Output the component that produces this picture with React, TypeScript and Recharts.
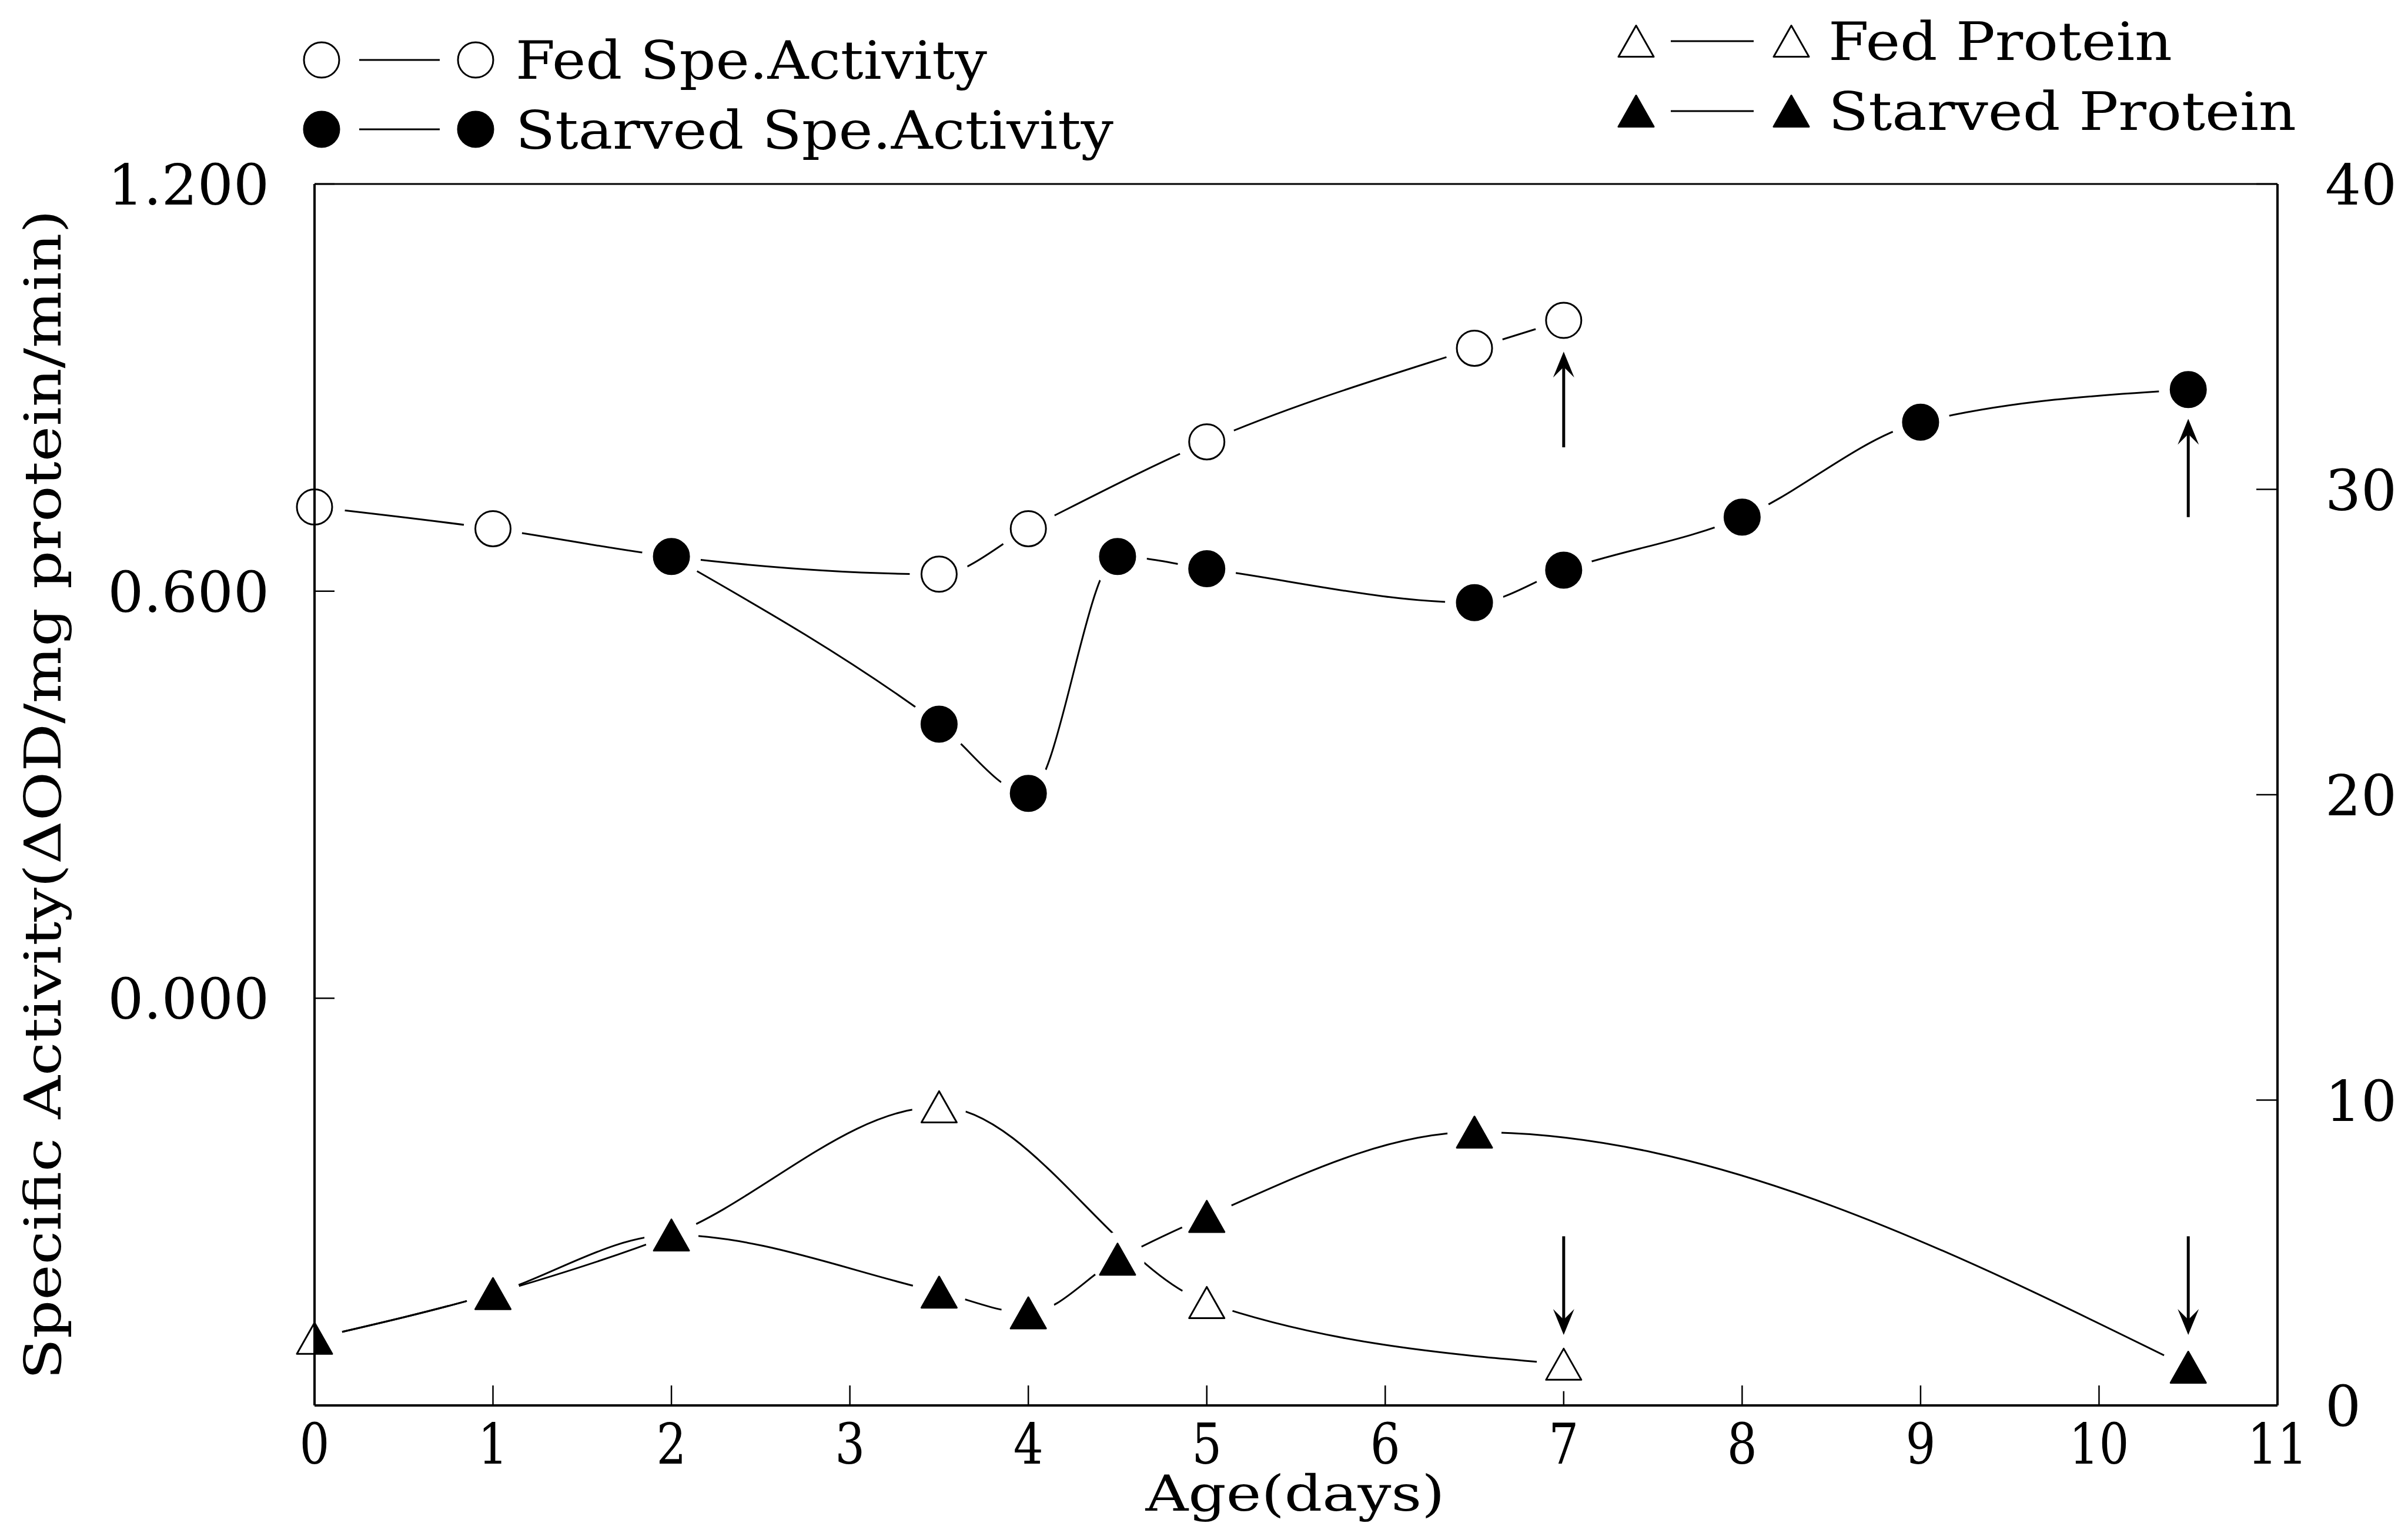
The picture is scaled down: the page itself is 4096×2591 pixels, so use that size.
import React from "react";
import { ComposedChart, Line, Scatter, XAxis, YAxis, ReferenceLine } from "recharts";

// values
const fedActivityDays = [0, 1, 2, 3.5, 4, 5, 6.5, 7];
const fedActivity = [0.724, 0.692, 0.651, 0.625, 0.692, 0.82, 0.958, 0.999];

const starvedActivityDays = [2, 3.5, 4, 4.5, 5, 6.5, 7, 8, 9, 10.5];
const starvedActivity = [0.651, 0.404, 0.302, 0.651, 0.633, 0.583, 0.631, 0.709, 0.849, 0.897];

const fedProteinDays = [0, 1, 2, 3.5, 5, 7];
const fedProtein = [2.2, 3.66, 5.58, 9.78, 3.37, 1.35];

const starvedProteinDays = [0, 1, 2, 3.5, 4, 4.5, 5, 6.5, 10.5];
const starvedProtein = [2.2, 3.66, 5.58, 3.71, 3.03, 4.79, 6.19, 8.95, 1.25];

const xTicks = [0, 1, 2, 3, 4, 5, 6, 7, 8, 9, 10, 11];
const leftTicks = [0, 0.6, 1.2];
const rightTicks = [0, 10, 20, 30, 40];

// end-of-experiment arrows
const activityArrowDays = [7, 10.5];
const activityArrowFrom = [0.812, 0.709];
const activityArrowTo = [0.953, 0.854];
const proteinArrowDays = [7, 10.5];
const proteinArrowFrom = [5.54, 5.54];
const proteinArrowTo = [2.31, 2.31];

const seriesNames = ["Fed Spe.Activity", "Starved Spe.Activity", "Fed Protein", "Starved Protein"];

const toRows = (days: number[], vals: number[]) => days.map((day, i) => ({ day, v: vals[i] }));
const fedActData = toRows(fedActivityDays, fedActivity);
const starvedActData = toRows(starvedActivityDays, starvedActivity);
const fedProtData = toRows(fedProteinDays, fedProtein);
const starvedProtData = toRows(starvedProteinDays, starvedProtein);

const W = 4096;
const H = 2591;
// plot box: left 535, right 3874, top 313, bottom 2391
const PLOT_MARGIN = { top: 313, left: 535, right: 222, bottom: 200 };

const FONT = "'DejaVu Serif', 'Liberation Serif', serif";
const R = 30;
const TW = 30;
const TH = 26.5;

type Kind = "circle" | "triangle";

function marker(kind: Kind, filled: boolean, cx: number, cy: number, half = false) {
  const fill = filled ? "#000" : "none";
  if (kind === "circle") {
    return <circle cx={cx} cy={cy} r={R} fill={fill} stroke="#000" strokeWidth={3} />;
  }
  const pts = half
    ? `${cx},${cy - TH} ${cx},${cy + TH} ${cx + TW},${cy + TH}`
    : `${cx},${cy - TH} ${cx - TW},${cy + TH} ${cx + TW},${cy + TH}`;
  return <polygon points={pts} fill={fill} stroke="#000" strokeWidth={3} strokeLinejoin="round" />;
}

// symbol with a white halo so the curves stop short of it
function makeShape(kind: Kind, filled: boolean) {
  const halo = kind === "circle" ? 50 : 46;
  return (p: any) => {
    const { cx, cy, payload } = p;
    if (cx == null || cy == null) return <g />;
    const atAxis = payload && payload.day === 0;
    const hx = cx + 2;
    return (
      <g>
        {atAxis ? (
          <path d={`M${hx},${cy - halo} A${halo},${halo} 0 0 1 ${hx},${cy + halo} Z`} fill="#fff" stroke="none" />
        ) : (
          <circle cx={cx} cy={cy} r={halo} fill="#fff" stroke="none" />
        )}
        {marker(kind, filled, cx, cy, atAxis && filled)}
      </g>
    );
  };
}

function makeArrow(pointUp: boolean) {
  return (p: any) => {
    const { x1, y1, y2 } = p;
    const tip = pointUp ? Math.min(y1, y2) : Math.max(y1, y2);
    const tail = pointUp ? Math.max(y1, y2) : Math.min(y1, y2);
    const d = pointUp ? 1 : -1;
    return (
      <g>
        <line x1={x1} x2={x1} y1={tail} y2={tip + d * 26} stroke="#000" strokeWidth={5} />
        <path
          d={`M${x1},${tip} L${x1 + 18},${tip + d * 44} L${x1},${tip + d * 26} L${x1 - 18},${tip + d * 44} Z`}
          fill="#000"
        />
      </g>
    );
  };
}

const BottomTick = (p: any) => {
  const { x, y, payload } = p;
  const label = String(payload.value);
  return (
    <g>
      <line x1={x} x2={x} y1={y} y2={y - 34} stroke="#000" strokeWidth={2.5} />
      <text
        x={x}
        y={y + 99}
        textAnchor="middle"
        fontFamily={FONT}
        fontSize={96}
        fill="#000"
        textLength={51 * label.length}
        lengthAdjust="spacingAndGlyphs"
      >
        {label}
      </text>
    </g>
  );
};

const LeftTick = (p: any) => {
  const { x, y, payload } = p;
  return (
    <g>
      <line x1={x} x2={x + 34} y1={y} y2={y} stroke="#000" strokeWidth={2.5} />
      <text x={x - 77} y={y + 35} textAnchor="end" fontFamily={FONT} fontSize={96} fill="#000">
        {Number(payload.value).toFixed(3)}
      </text>
    </g>
  );
};

const RightTick = (p: any) => {
  const { x, y, payload } = p;
  return (
    <g>
      <line x1={x} x2={x - 36} y1={y} y2={y} stroke="#000" strokeWidth={2.5} />
      <text x={x + 81} y={y + 35} textAnchor="start" fontFamily={FONT} fontSize={96} fill="#000">
        {String(payload.value)}
      </text>
    </g>
  );
};

const axisLine = { stroke: "#000", strokeWidth: 4 };

const series = [
  { data: fedActData, axis: "left", kind: "circle" as Kind, filled: false },
  { data: starvedActData, axis: "left", kind: "circle" as Kind, filled: true },
  { data: fedProtData, axis: "right", kind: "triangle" as Kind, filled: false },
  { data: starvedProtData, axis: "right", kind: "triangle" as Kind, filled: true },
];

const layer: React.CSSProperties = { position: "absolute", left: 0, top: 0 };

export default function App() {
  return (
    <div style={{ position: "relative", width: W, height: H, background: "#fff", overflow: "hidden" }}>
      <style>{`body{margin:0}`}</style>

      {/* axes, curves and arrows */}
      <div style={layer}>
        <ComposedChart width={W} height={H} margin={{ top: 313, left: 235, right: 22, bottom: 50 }}>
          <XAxis
            type="number"
            dataKey="day"
            domain={[0, 11]}
            ticks={xTicks}
            interval={0}
            height={150}
            tickSize={0}
            tickMargin={0}
            tickLine={false}
            axisLine={axisLine}
            tick={BottomTick}
          />
          <YAxis
            yAxisId="left"
            orientation="left"
            type="number"
            dataKey="v"
            domain={[-0.6, 1.2]}
            ticks={leftTicks}
            interval={0}
            width={300}
            tickSize={0}
            tickMargin={0}
            tickLine={false}
            axisLine={axisLine}
            tick={LeftTick}
          />
          <YAxis
            yAxisId="right"
            orientation="right"
            type="number"
            dataKey="v"
            domain={[0, 40]}
            ticks={rightTicks}
            interval={0}
            width={200}
            tickSize={0}
            tickMargin={0}
            tickLine={false}
            axisLine={axisLine}
            tick={RightTick}
          />
          <ReferenceLine yAxisId="left" y={1.2} stroke="#000" strokeWidth={3} />

          {series.map((s, i) => (
            <Line
              key={`curve-${i}`}
              yAxisId={s.axis}
              data={s.data}
              dataKey="v"
              name={seriesNames[i]}
              type="monotone"
              stroke="#000"
              strokeWidth={3}
              dot={false}
              activeDot={false}
              legendType="none"
              isAnimationActive={false}
            />
          ))}

          {activityArrowDays.map((d, i) => (
            <ReferenceLine
              key={`aa${i}`}
              yAxisId="left"
              segment={[
                { x: d, y: activityArrowFrom[i] },
                { x: d, y: activityArrowTo[i] },
              ]}
              shape={makeArrow(true)}
            />
          ))}
          {proteinArrowDays.map((d, i) => (
            <ReferenceLine
              key={`pa${i}`}
              yAxisId="right"
              segment={[
                { x: d, y: proteinArrowFrom[i] },
                { x: d, y: proteinArrowTo[i] },
              ]}
              shape={makeArrow(false)}
            />
          ))}
        </ComposedChart>
      </div>

      {/* symbols on top, same scales, so their halos break the curves */}
      <div style={layer}>
        <ComposedChart width={W} height={H} margin={PLOT_MARGIN}>
          <XAxis type="number" dataKey="day" domain={[0, 11]} hide />
          <YAxis yAxisId="left" type="number" dataKey="v" domain={[-0.6, 1.2]} hide />
          <YAxis yAxisId="right" orientation="right" type="number" dataKey="v" domain={[0, 40]} hide />
          {series.map((s, i) => (
            <Scatter
              key={`marks-${i}`}
              yAxisId={s.axis}
              data={s.data}
              dataKey="v"
              name={seriesNames[i]}
              shape={makeShape(s.kind, s.filled)}
              legendType="none"
              isAnimationActive={false}
            />
          ))}
        </ComposedChart>
      </div>

      <svg width={W} height={H} style={{ ...layer, pointerEvents: "none" }}>
        {/* legend, left block */}
        {marker("circle", false, 547, 102)}
        <line x1={611} x2={748} y1={102} y2={102} stroke="#000" strokeWidth={3} />
        {marker("circle", false, 809, 102)}
        <text x={877} y={134} fontFamily={FONT} fontSize={89} textLength={802} lengthAdjust="spacingAndGlyphs">
          {seriesNames[0]}
        </text>
        {marker("circle", true, 547, 220)}
        <line x1={611} x2={748} y1={220} y2={220} stroke="#000" strokeWidth={3} />
        {marker("circle", true, 809, 220)}
        <text x={877} y={253} fontFamily={FONT} fontSize={89} textLength={1017} lengthAdjust="spacingAndGlyphs">
          {seriesNames[1]}
        </text>

        {/* legend, right block */}
        {marker("triangle", false, 2783, 70)}
        <line x1={2842} x2={2983} y1={70} y2={70} stroke="#000" strokeWidth={3} />
        {marker("triangle", false, 3047, 70)}
        <text x={3110} y={102} fontFamily={FONT} fontSize={89} textLength={585} lengthAdjust="spacingAndGlyphs">
          {seriesNames[2]}
        </text>
        {marker("triangle", true, 2783, 189)}
        <line x1={2842} x2={2983} y1={189} y2={189} stroke="#000" strokeWidth={3} />
        {marker("triangle", true, 3047, 189)}
        <text x={3110} y={221} fontFamily={FONT} fontSize={89} textLength={796} lengthAdjust="spacingAndGlyphs">
          {seriesNames[3]}
        </text>

        {/* axis titles */}
        <text
          x={103}
          y={1352}
          transform="rotate(-90 103 1352)"
          textAnchor="middle"
          fontFamily={FONT}
          fontSize={86}
          textLength={1990}
          lengthAdjust="spacingAndGlyphs"
        >
          Specific Activity(ΔOD/mg protein/min)
        </text>
        <text
          x={2203}
          y={2570}
          textAnchor="middle"
          fontFamily={FONT}
          fontSize={84}
          textLength={509}
          lengthAdjust="spacingAndGlyphs"
        >
          Age(days)
        </text>
      </svg>
    </div>
  );
}
